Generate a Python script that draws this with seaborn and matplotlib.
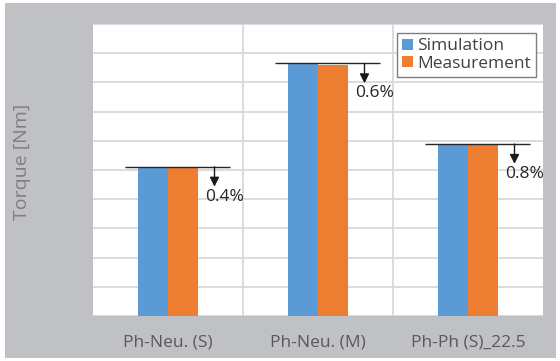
import pandas as pd
import numpy as np
import matplotlib
matplotlib.use('Agg')
import matplotlib.pyplot as plt
import seaborn as sns
from matplotlib.patches import Rectangle

# 数据（从图中读取，单位任意）
configs = ['Ph-Neu. (S)', 'Ph-Neu. (M)', 'Ph-Ph (S)_22.5']
simulation = [5.11, 8.65, 5.89]
measurement = [5.09, 8.60, 5.84]
deviation = ['0.4%', '0.6%', '0.8%']
sources = ['Simulation', 'Measurement']

BLUE = '#5B9BD5'
ORANGE = '#ED7D31'

sns.set_style('white')
plt.rcParams['font.family'] = ['Open Sans', 'DejaVu Sans']

df = pd.DataFrame({
    'config': configs * 2,
    'torque': simulation + measurement,
    'source': [sources[0]] * len(configs) + [sources[1]] * len(configs),
})

W, H = 560, 361
fig = plt.figure(figsize=(W / 100, H / 100), dpi=100, facecolor='white')

# 灰色背景
fig.patches.append(Rectangle((5 / W, 3 / H), 551 / W, 355 / H,
                             transform=fig.transFigure, facecolor='#C0C1C5',
                             edgecolor='none', zorder=-10))

ax = fig.add_axes([93 / W, (H - 316) / H, 450 / W, 292 / H])
ax.set_facecolor('white')

sns.barplot(data=df, x='config', y='torque', hue='source',
            palette=[BLUE, ORANGE], width=0.4, saturation=1,
            linewidth=0, ax=ax, zorder=3)

ax.set_xlim(-0.5, 2.5)
ax.set_ylim(0, 10)
ax.set_yticks(np.arange(0, 11, 1))
ax.set_yticklabels([])
ax.set_xticks([0.5, 1.5], minor=True)
ax.grid(True, which='major', axis='y', color='#D9D9D9', linewidth=1.3, zorder=0)
ax.grid(True, which='minor', axis='x', color='#D9D9D9', linewidth=1.3, zorder=0)
ax.tick_params(axis='both', which='both', length=0)
ax.tick_params(axis='x', pad=13, labelsize=12.5, labelcolor='#595959')
for s in ax.spines.values():
    s.set_visible(False)

ax.set_xlabel('')
ax.set_ylabel('Torque [Nm]', fontsize=14, color='#7F7F7F')
ax.yaxis.set_label_coords(-0.138, 0.527)

# 偏差标注
for i, (sim, dev) in enumerate(zip(simulation, deviation)):
    ax.hlines(sim, i - 0.29, i + 0.41, color='#262626', linewidth=1, zorder=4)
    ax.annotate('', xy=(i + 0.31, sim - 0.68), xytext=(i + 0.31, sim),
                arrowprops=dict(arrowstyle='-|>', color='#1A1A1A', lw=1,
                                mutation_scale=14, shrinkA=0, shrinkB=0),
                zorder=4)
    ax.text(i + 0.25, sim - 1.02, dev, fontsize=12.5, color='#262626',
            ha='left', va='center', zorder=4)

leg = ax.legend(loc='upper right', bbox_to_anchor=(0.984, 0.969),
                borderaxespad=0, fancybox=False, framealpha=1,
                edgecolor='#7F7F7F', fontsize=12.5, handlelength=0.6,
                handleheight=0.6, handletextpad=0.25, labelspacing=0.1,
                borderpad=0.3)
leg.get_frame().set_linewidth(1)
for t in leg.get_texts():
    t.set_color('#404040')

fig.savefig('out.png', dpi=100)
